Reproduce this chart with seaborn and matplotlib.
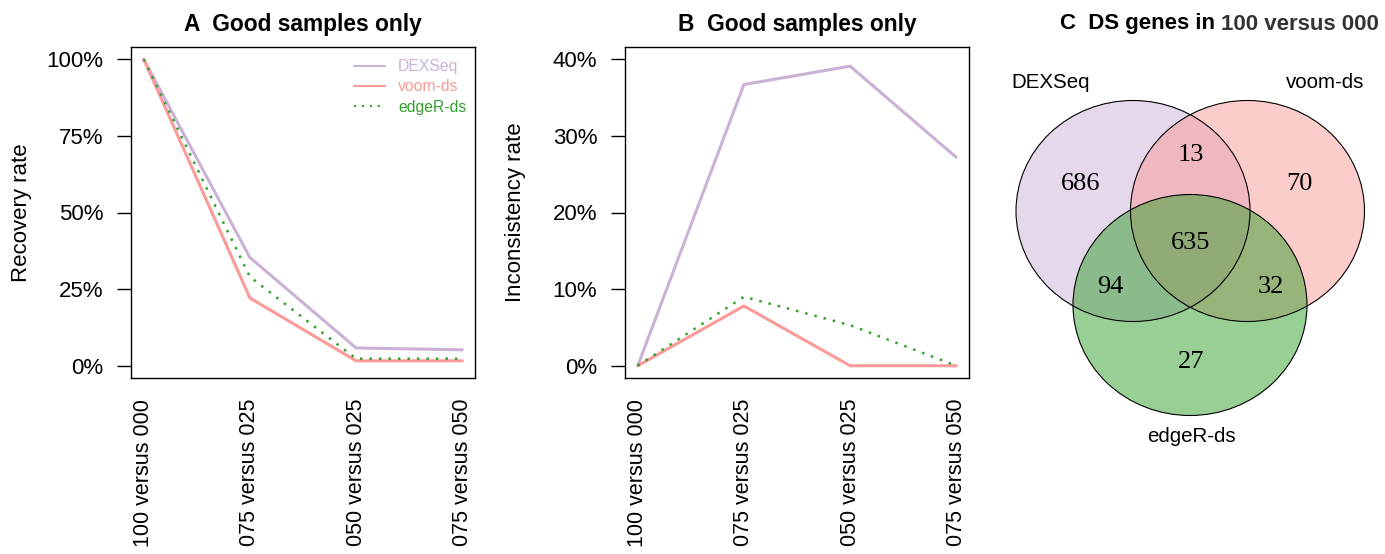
import numpy as np
import pandas as pd
import matplotlib
matplotlib.use("Agg")
import matplotlib.pyplot as plt
import seaborn as sns
from matplotlib.patches import Ellipse
from matplotlib.lines import Line2D

# ---------------- data ----------------
comparisons = ["100 versus 000", "075 versus 025", "050 versus 025", "075 versus 050"]
methods = ["DEXSeq", "voom-ds", "edgeR-ds"]

recovery_dexseq = [100.0, 35.3, 5.8, 5.2]
recovery_voom = [100.0, 22.1, 1.6, 1.6]
recovery_edger = [100.0, 29.0, 2.3, 2.3]

inconsistency_dexseq = [0.0, 36.7, 39.1, 27.2]
inconsistency_voom = [0.0, 7.8, 0.0, 0.0]
inconsistency_edger = [0.0, 9.0, 5.3, 0.0]

venn_regions = ["DEXSeq only", "voom-ds only", "edgeR-ds only",
                "DEXSeq & voom-ds", "DEXSeq & edgeR-ds", "voom-ds & edgeR-ds", "all"]
venn_counts = [686, 70, 27, 13, 94, 32, 635]

# ---------------- style ----------------
sns.set_style("white")
plt.rcParams["font.family"] = ["Liberation Sans", "DejaVu Sans"]
for k in ["text.color", "axes.labelcolor", "xtick.color", "ytick.color", "axes.edgecolor"]:
    plt.rcParams[k] = "black"

colors = {"DEXSeq": "#CAB2D6", "voom-ds": "#FB9A99", "edgeR-ds": "#33A02C"}
dotted = (0, (1, 2.8))
styles = {"DEXSeq": "-", "voom-ds": "-", "edgeR-ds": dotted}

W, H = 1385, 554
fig = plt.figure(figsize=(W / 100, H / 100), dpi=100)


def px_axes(x0, x1, y0, y1):
    return fig.add_axes([x0 / W, 1 - y1 / H, (x1 - x0) / W, (y1 - y0) / H])


def make_df(a, b, c):
    rows = []
    for m, vals in zip(methods, [a, b, c]):
        for i, (comp, v) in enumerate(zip(comparisons, vals)):
            rows.append({"method": m, "pos": i + 1, "comparison": comp, "value": v})
    return pd.DataFrame(rows)


def line_panel(ax, df, ylim, yticks, ylabel):
    for m in methods:
        sub = df[df["method"] == m]
        lw = 1.8 if m == "edgeR-ds" else 2.2
        sns.lineplot(data=sub, x="pos", y="value", ax=ax, color=colors[m],
                     linewidth=lw, linestyle=styles[m], legend=False,
                     estimator=None, sort=False)
    ax.set_xlim(0.88, 4.12)
    ax.set_ylim(*ylim)
    ax.set_xticks(range(1, 5))
    ax.set_xticklabels(comparisons, rotation=90, fontsize=15.5, va="top", ha="center")
    ax.set_yticks(yticks)
    ax.set_yticklabels([f"{int(t)}%" for t in yticks], fontsize=16)
    ax.tick_params(axis="x", length=0, pad=15)
    ax.tick_params(axis="y", length=10, width=1.0, pad=10, left=True, color="black")
    ax.set_xlabel("")
    ax.set_ylabel(ylabel, fontsize=16)
    ax.yaxis.set_label_coords(-0.288, 0.5)
    for s in ax.spines.values():
        s.set_visible(True)
        s.set_color("black")
        s.set_linewidth(1.0)


# Panel A
axA = px_axes(131, 475, 47, 378)
dfA = make_df(recovery_dexseq, recovery_voom, recovery_edger)
line_panel(axA, dfA, (-4, 104), [0, 25, 50, 75, 100], "Recovery rate")
handles = [Line2D([0], [0], color=colors[m], lw=1.5, linestyle=styles[m]) for m in methods]
leg = axA.legend(handles, methods, loc="upper left", frameon=False, fontsize=11.3,
                 bbox_to_anchor=(354 / W, 1 - 59 / H), bbox_transform=fig.transFigure,
                 borderpad=0, borderaxespad=0, handlelength=2.0, handletextpad=0.8,
                 labelspacing=0.34)
for t, m in zip(leg.get_texts(), methods):
    t.set_color(colors[m])
fig.text(303 / W, 1 - 24 / H, "A  Good samples only", ha="center", va="center",
         fontsize=16.4, fontweight="bold")

# Panel B
axB = px_axes(625, 969, 47, 378)
dfB = make_df(inconsistency_dexseq, inconsistency_voom, inconsistency_edger)
line_panel(axB, dfB, (-1.6, 41.6), [0, 10, 20, 30, 40], "Inconsistency rate")
fig.text(797 / W, 1 - 24 / H, "B  Good samples only", ha="center", va="center",
         fontsize=16.4, fontweight="bold")

# Panel C: Venn diagram
axC = px_axes(990, 1385, 0, 554)
axC.set_xlim(990, 1385)
axC.set_ylim(554, 0)
axC.axis("off")
circles = [((1133, 211), colors["DEXSeq"]),
           ((1247.5, 211), colors["voom-ds"]),
           ((1190, 305), colors["edgeR-ds"])]
for (cx, cy), col in circles:
    axC.add_patch(Ellipse((cx, cy), 234, 221, facecolor=col, alpha=0.5, edgecolor="none"))
for (cx, cy), col in circles:
    axC.add_patch(Ellipse((cx, cy), 234, 221, facecolor="none", edgecolor="black", lw=0.8))
count_pos = {"DEXSeq only": (1081, 184), "voom-ds only": (1299, 184), "edgeR-ds only": (1191, 362),
             "DEXSeq & voom-ds": (1191, 155), "DEXSeq & edgeR-ds": (1110, 287),
             "voom-ds & edgeR-ds": (1271, 287), "all": (1191, 243)}
for reg, cnt in zip(venn_regions, venn_counts):
    x, y = count_pos[reg]
    axC.text(x, y, str(cnt), ha="center", va="center", fontsize=19,
             family=["Liberation Serif", "DejaVu Serif"])
axC.text(1051, 82, "DEXSeq", ha="center", va="center", fontsize=14.8)
axC.text(1325, 82, "voom-ds", ha="center", va="center", fontsize=14.8)
axC.text(1191, 437, "edgeR-ds", ha="center", va="center", fontsize=14.8)

tC1 = fig.text(1060 / W, 1 - 24 / H, "C  DS genes in ", ha="left", va="center",
               fontsize=16, fontweight="bold")
fig.canvas.draw()
bb = tC1.get_window_extent()
fig.text(bb.x1 / W, 1 - 24 / H, "100 versus 000", ha="left", va="center",
         fontsize=16, fontweight="bold", color="#333333")

fig.savefig("out.png", dpi=100)
